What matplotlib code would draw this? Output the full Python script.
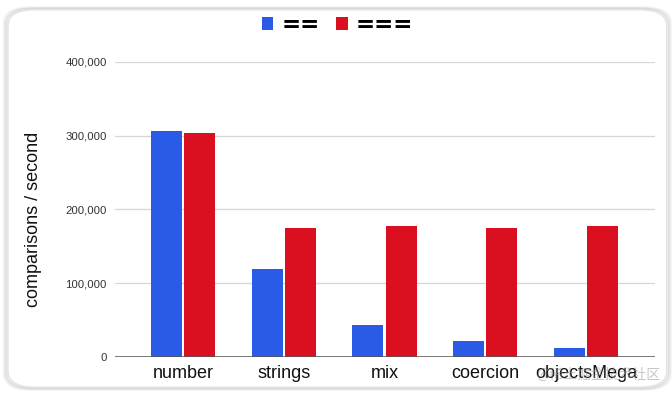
import numpy as np
import matplotlib.pyplot as plt
from matplotlib.patches import FancyBboxPatch
from matplotlib.ticker import FuncFormatter

categories = ["number", "strings", "mix", "coercion", "objectsMega"]
loose_eq = [306000, 119000, 43000, 22000, 12000]
strict_eq = [304000, 175000, 178000, 175000, 178000]
series_labels = ["==", "==="]

blue = "#2a5be6"
red = "#da1020"

plt.rcParams["font.family"] = ["Liberation Sans", "DejaVu Sans"]

fig = plt.figure(figsize=(6.72, 3.95), dpi=100)

# card frame with soft shadow
for i, a in enumerate([0.04, 0.05, 0.07]):
    pad = 0.006 - i * 0.002
    fig.patches.append(FancyBboxPatch(
        (0.012 - pad, 0.02 - pad), 0.98 + 2 * pad, 0.955 + 2 * pad,
        boxstyle="round,pad=0,rounding_size=0.04", transform=fig.transFigure,
        facecolor="none", edgecolor="black", alpha=a, linewidth=2, zorder=-10))
fig.patches.append(FancyBboxPatch(
    (0.012, 0.02), 0.98, 0.955,
    boxstyle="round,pad=0,rounding_size=0.04", transform=fig.transFigure,
    facecolor="white", edgecolor="#e4e4e4", linewidth=1, zorder=-9))

ax = fig.add_axes([115 / 672, 1 - 357 / 395, 540 / 672, 295 / 395])
ax.set_facecolor("none")

x = np.arange(len(categories))
w = 0.31
b1 = ax.bar(x - 0.165, loose_eq, w, color=blue, zorder=3)
b2 = ax.bar(x + 0.165, strict_eq, w, color=red, zorder=3)

ax.set_xlim(-0.675, 4.685)
ax.set_ylim(0, 400000)
ax.set_yticks([0, 100000, 200000, 300000, 400000])
ax.yaxis.set_major_formatter(FuncFormatter(lambda v, p: f"{int(v):,}"))
ax.grid(axis="y", color="#d6d6d6", linewidth=0.9, zorder=0)
ax.axhline(0, color="#555555", linewidth=1.1, zorder=4)
for s in ax.spines.values():
    s.set_visible(False)
ax.tick_params(axis="y", length=0, labelsize=8.2, labelcolor="#333333", pad=6)
ax.tick_params(axis="x", length=0, labelsize=13, labelcolor="#111111", pad=6)
ax.set_xticks(x)
ax.set_xticklabels(categories)
ax.set_ylabel("comparisons / second", fontsize=13, color="#111111")
ax.yaxis.set_label_coords(-0.135, 0.465)

fig.legend([b1, b2], series_labels, loc="center",
           bbox_to_anchor=(0.502, 0.937), ncol=2, frameon=False,
           handlelength=0.52, handleheight=0.52, handletextpad=0.35,
           columnspacing=0.7,
           prop={"size": 16.5, "weight": "bold", "family": "DejaVu Sans"})

fig.text(0.982, 0.052, "@稀土掘金技术社区", ha="right", va="center",
         fontsize=10, color="#999999", alpha=0.55,
         family=["Noto Sans CJK SC", "DejaVu Sans"], zorder=10)

fig.savefig("out.png", dpi=100)
